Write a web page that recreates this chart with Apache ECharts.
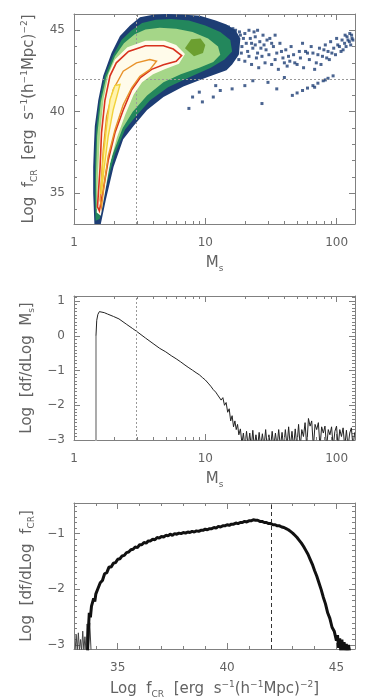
<!DOCTYPE html>
<html>
<head>
<meta charset="utf-8">
<script src="https://cdn.jsdelivr.net/npm/echarts@6/dist/echarts.min.js"></script>
<style>
  html, body { margin: 0; padding: 0; background: #fff; }
  #chart { width: 371px; height: 700px; }
</style>
</head>
<body>
<div id="chart"></div>
<script>
// ---------- panel 1: density of (Ms, log fCR), nested levels ----------
const navyLevel = [[1.43,33.1],[1.40,35.0],[1.40,36.6],[1.42,38.0],[1.44,39.1],[1.53,40.7],[1.67,42.2],[1.93,43.6],[2.24,44.65],[2.67,45.3],[3.18,45.8],[4.0,45.95],[5.1,46.0],[7.0,45.95],[9.1,45.9],[12,45.6],[14.5,45.35],[17,45.0],[18.5,44.5],[18,43.5],[16,42.9],[14.5,42.55],[10.2,42.1],[6.8,41.55],[4.8,40.9],[3.6,40.1],[2.83,39.1],[2.37,38.3],[2.0,36.6],[1.75,34.6],[1.6,33.1]];
const tealLevel = [[1.46,33.3],[1.44,35.0],[1.45,37.0],[1.48,39.0],[1.57,40.7],[1.72,42.2],[2.0,43.5],[2.3,44.4],[2.75,45.0],[3.3,45.45],[4.2,45.65],[5.5,45.7],[7.5,45.6],[10,45.3],[13,44.9],[15.5,44.4],[16,43.7],[14,43.2],[11,42.7],[7.5,42.1],[5.2,41.5],[3.8,40.7],[2.95,39.7],[2.45,38.9],[2.05,37.4],[1.74,35.3],[1.57,33.4]];
const lightLevel = [[1.48,34.0],[1.47,36.0],[1.5,38.5],[1.6,40.6],[1.76,42.1],[2.05,43.4],[2.4,44.2],[2.9,44.75],[3.5,45.05],[4.5,45.15],[6,45.1],[8,44.9],[10.5,44.5],[12.5,44.0],[13,43.5],[11.5,43.05],[9,42.7],[6.5,42.3],[4.8,41.8],[3.6,41.0],[2.8,40.0],[2.35,39.0],[1.95,37.3],[1.7,35.5],[1.55,34.0]];
const oliveLevel = [[7.0,43.9],[7.8,44.45],[9.2,44.5],[10.0,44.1],[9.6,43.6],[8.2,43.4]];
const creamLevel = [[1.49,33.8],[1.53,36.5],[1.58,38.7],[1.68,40.8],[1.83,42.3],[2.05,43.2],[2.55,43.95],[3.5,44.35],[4.9,44.35],[6.0,44.1],[7.0,43.55],[6.3,42.95],[4.9,42.6],[4.0,42.3],[3.3,41.8],[2.85,41.05],[2.45,39.8],[2.12,38.4],[1.88,36.8],[1.72,35.0],[1.6,33.6]];
const redContour = [[1.51,34.15],[1.58,36.6],[1.62,38.7],[1.72,40.7],[1.88,42.2],[2.1,43.0],[2.6,43.7],[3.5,44.05],[4.8,44.05],[5.7,43.85],[6.6,43.45],[6.0,43.1],[4.8,42.88],[3.9,42.6],[3.2,42.1],[2.75,41.35],[2.37,40.1],[2.05,38.7],[1.82,37.0],[1.67,35.2],[1.56,33.9]];
const orangeContour = [[1.58,34.57],[1.67,37.65],[1.77,39.71],[1.99,41.36],[2.37,42.49],[2.99,43.0],[3.78,43.2],[4.25,43.1],[3.78,42.58],[3.18,42.18],[2.75,41.46],[2.37,40.43],[2.05,38.88],[1.82,37.25],[1.69,35.4],[1.62,34.15]];
const yellowContour = [[1.60,34.98],[1.67,37.25],[1.77,39.09],[1.88,40.74],[2.05,41.6],[2.24,41.67],[2.17,41.25],[1.99,40.12],[1.82,38.47],[1.69,36.42],[1.62,34.98]];
const tailPoints = [
  [15,45.2],[16,44.9],[17,45.0],[18.5,44.7],[20,44.8],[22,44.5],[24,44.6],[26,44.3],[28,44.1],[15.5,44.2],[17.5,43.9],[19,44.0],[21,43.7],[23,43.9],[25,43.6],[27,43.4],[29,43.8],[16.5,43.5],[18,43.2],[20,43.1],[22.5,42.9],[25.5,42.7],[28.5,43.0],
  [14.8,44.8],[15.2,43.8],[16.2,45.1],[16.8,44.4],[17.2,43.6],[18.2,44.9],[18.8,43.6],[19.5,44.5],[20.5,44.2],[21.5,45.0],[21.5,43.4],[22.5,44.2],[23.5,44.9],[24.5,43.3],[24,44.1],[25,45.0],[26.5,43.9],[27.5,44.7],[29.5,44.4],[30.5,43.5],[32,44.2],[34,44.7],[34,43.2],[38,43.7],
  [31,44.5],[33,44.0],[35,43.6],[37,44.2],[39,43.3],[41,43.8],[44,43.1],[47,43.5],[50,42.9],[53,43.3],[56,42.7],[32,42.9],[36,42.6],[42,42.8],[58,43.7],
  [40,43.0],[43,43.4],[45,44.0],[48,43.0],[52,43.7],[55,44.2],[60,43.6],[64,44.0],[72,43.5],[80,43.8],[84,43.3],[92,43.6],[102,44.1],[108,43.7],[118,44.0],[122,44.4],[128,44.1],[131,44.5],[126,44.8],[116,44.7],
  [62,43.2],[66,43.6],[70,43.0],[74,43.9],[78,43.4],[82,44.1],[86,43.7],[90,44.3],[95,43.9],[100,44.5],[105,44.0],[110,44.4],[115,44.2],[120,44.6],[125,44.3],[130,44.7],[133,44.4],[112,43.8],[98,43.5],[88,43.2],[76,42.9],[68,42.6],
  [46,41.0],[50,41.15],[55,41.3],[60,41.45],[66,41.6],[72,41.75],[79,41.9],[86,42.05],[94,42.2],[68,41.5],[82,41.95],
  [7.5,40.2],[9.5,40.6],[11.5,40.9],[13,41.3],[16,41.4],[20,41.6],[23,41.9],[27,40.5],[30,41.8],[35,41.4],[40,42.1],[12,41.6],[9,41.2],[8,40.9]
];

// ---------- panel 2: log df/dlog Ms ----------
const msSpike = [[1.47,-3.3],[1.47,0.0]];
const msCurve = [[1.47,0.0],[1.49,0.45],[1.52,0.62],[1.56,0.70],[1.6,0.72],[1.7,0.67],[1.8,0.63],[2.0,0.56],[2.2,0.49],[2.5,0.34],[2.8,0.21],[3.0,0.13],[3.5,-0.06],[4,-0.22],[4.5,-0.36],[5,-0.46],[5.5,-0.57],[6,-0.66],[6.5,-0.75],[7,-0.84],[7.5,-0.92],[8,-0.99],[8.5,-1.06],[9,-1.12],[9.5,-1.2],[10,-1.27],[10.5,-1.36],[11,-1.45],[11.5,-1.55],
  [12,-1.62],[12.4,-1.7],[12.8,-1.66],[13.2,-1.85],[13.6,-1.78],[14.0,-2.0],[14.4,-1.92],[14.8,-2.2],[15.2,-2.1],[15.6,-2.45],[16.0,-2.3],[16.4,-2.62],[16.8,-2.45],[17.2,-2.7],[17.6,-2.55],[18.0,-2.85],[18.5,-2.68],[19.0,-3.1],[19.5,-2.8],
  [20.0,-3.2],[20.6,-2.75],[21.2,-3.2],[21.8,-2.8],[22.4,-3.2],[23.0,-2.72],[23.6,-3.2],[24.3,-2.85],[25.0,-3.2],[25.7,-2.78],[26.4,-3.2],[27.2,-2.82],[28.0,-3.2],[28.8,-2.7],[29.6,-3.2],[30.5,-2.85],[31.4,-3.2],[32.3,-2.75],[33.2,-3.2],[34.2,-2.8],[35.2,-3.2],[36.2,-2.7],[37.3,-3.2],[38.4,-2.78],[39.5,-3.2],[40.7,-2.7],[41.9,-3.2],[43.1,-2.62],[44.4,-3.2],[45.7,-2.75],[47.0,-3.2],[48.4,-2.68],[49.8,-3.2],
  [51.3,-2.55],[52.8,-3.2],[54.3,-2.7],[55.9,-2.9],[57.5,-2.5],[59.2,-3.2],[61.0,-2.38],[62.8,-2.6],[64.6,-2.45],[66.5,-3.2],[68.5,-2.55],[70.5,-2.7],[72.6,-2.5],[74.7,-3.2],[76.9,-2.62],[79.2,-2.8],[81.5,-2.6],[83.9,-3.2],[86.4,-2.7],[88.9,-2.85],[91.5,-2.62],[94.2,-3.2],[97.0,-2.75],[99.8,-2.6],[102.7,-3.2],[105.7,-2.7],[108.8,-2.9],[112.0,-2.65],[115.3,-3.2],[118.7,-2.72],[122.2,-3.2],[125.8,-2.8],[129.5,-2.65],[133.3,-3.2],[137.2,-2.78]];

// ---------- panel 3: log df/dlog fCR ----------
const fcrNoiseLeft = [[33.05,-3.1],[33.1,-2.82],[33.15,-3.1],[33.2,-2.78],[33.25,-3.1],[33.3,-2.9],[33.35,-3.1],[33.4,-2.75],[33.45,-3.1],[33.5,-2.85],[33.55,-3.1],[33.6,-2.62],[33.65,-3.1],[33.72,-2.6],[33.78,-3.1]];
const fcrCurve = [[33.62,-3.1],[33.66,-2.7],[33.7,-2.42],[33.75,-2.5],[33.8,-2.3],[33.85,-2.32],[33.9,-2.16],[33.95,-2.22],[34.0,-2.08],[34.05,-2.1],[34.1,-1.98],[34.15,-2.0],[34.2,-1.88],[34.3,-1.84],[34.4,-1.72],[34.5,-1.7],[34.6,-1.6],[34.7,-1.6],[34.8,-1.53],[34.9,-1.52],
  [35.0,-1.46],[35.1,-1.45],[35.2,-1.4],[35.3,-1.39],[35.4,-1.34],[35.5,-1.33],[35.6,-1.29],[35.7,-1.28],[35.8,-1.24],[35.9,-1.25],[36.0,-1.2],[36.1,-1.2],[36.2,-1.16],[36.3,-1.17],[36.4,-1.13],[36.5,-1.13],[36.6,-1.1],[36.7,-1.11],[36.8,-1.07],[36.9,-1.08],[37.0,-1.05],[37.1,-1.06],[37.2,-1.03],[37.3,-1.04],[37.4,-1.01],[37.5,-1.03],[37.6,-1.0],[37.7,-1.01],[37.8,-0.99],[37.9,-1.0],
  [38.0,-0.98],[38.1,-0.99],[38.2,-0.97],[38.3,-0.98],[38.4,-0.96],[38.5,-0.97],[38.6,-0.95],[38.7,-0.96],[38.8,-0.94],[38.9,-0.94],[39.0,-0.92],[39.1,-0.93],[39.2,-0.91],[39.3,-0.91],[39.4,-0.89],[39.5,-0.9],[39.6,-0.87],[39.7,-0.88],[39.8,-0.86],[39.9,-0.86],[40.0,-0.84],[40.1,-0.85],[40.2,-0.83],[40.3,-0.83],[40.4,-0.81],[40.5,-0.82],[40.6,-0.8],[40.7,-0.8],[40.8,-0.78],[40.9,-0.79],
  [41.0,-0.77],[41.1,-0.77],[41.2,-0.75],[41.3,-0.76],[41.4,-0.76],[41.5,-0.78],[41.6,-0.78],[41.7,-0.8],[41.8,-0.8],[41.9,-0.82],[42.0,-0.82],[42.1,-0.84],[42.2,-0.84],[42.3,-0.86],[42.4,-0.86],[42.5,-0.88],[42.6,-0.89],[42.7,-0.91],[42.8,-0.93],[42.9,-0.96],[43.0,-0.99],[43.1,-1.03],[43.2,-1.07],[43.3,-1.12],[43.4,-1.17],[43.5,-1.23],[43.6,-1.3],[43.7,-1.37],[43.8,-1.46],[43.9,-1.55],
  [44.0,-1.66],[44.1,-1.76],[44.2,-1.88],[44.3,-2.0],[44.4,-2.14],[44.5,-2.26],[44.6,-2.42],[44.7,-2.52],[44.8,-2.68],[44.9,-2.75],[45.0,-2.92],[45.05,-2.82],[45.1,-3.05],[45.15,-2.88],[45.2,-3.1],[45.25,-2.9],[45.3,-3.1],[45.35,-2.95],[45.4,-3.1],[45.45,-2.98],[45.5,-3.1],[45.55,-3.0],[45.6,-3.1]];

// axis ranges, ticks, reference lines
const msMin = 1, msMax = 138;
const msLabels = [1, 10, 100];
const msMinor = [2,3,4,5,6,7,8,9,20,30,40,50,60,70,80,90];
const fcrRange1 = [33.1, 46];       // panel 1 y
const fcrTicks1 = [35, 40, 45];
const fcrMinor1 = [34,36,37,38,39,41,42,43,44,46];
const dfRange2 = [-3, 1.15];
const dfTicks2 = [-3, -2, -1, 0, 1];
const fcrRange3 = [33, 45.85];      // panel 3 x
const fcrTicks3 = [35, 40, 45];
const fcrMinor3 = [33,34,36,37,38,39,41,42,43,44];
const dfRange3 = [-3.07, -0.45];
const dfTicks3 = [-3, -2, -1];
const refMs = 3, refFcr = 42;

function tenths(a, b) {
  const out = [];
  for (let i = Math.round(a * 10); i <= Math.round(b * 10); i++) out.push(i / 10);
  return out;
}

const font = 'DejaVu Sans';
const axisGrey = '#808080';
const textGrey = '#626262';
const rich = {
  t: { fontFamily: font, fontSize: 15, color: textGrey, lineHeight: 19 },
  sub: { fontFamily: font, fontSize: 9, color: textGrey, verticalAlign: 'bottom', lineHeight: 8 },
  sup: { fontFamily: font, fontSize: 9, color: textGrey, verticalAlign: 'top', lineHeight: 10 }
};
const fcrTitle = '{t|Log  f}{sub|CR}{t|  [erg  s}{sup|−1}{t|(h}{sup|−1}{t|Mpc)}{sup|−2}{t|]}';
const minus = v => String(v).replace('-', '−');

function logAxis(grid, pos, main) {
  return {
    type: 'log', logBase: 10, gridIndex: grid, position: pos, min: msMin, max: msMax,
    axisLine: { show: true, onZero: false, lineStyle: { color: axisGrey } },
    axisTick: { show: true, inside: true, length: 6, lineStyle: { color: axisGrey } },
    axisLabel: main ? { show: true, color: textGrey, fontFamily: font, fontSize: 12, margin: 13,
      formatter: v => msLabels.indexOf(v) >= 0 ? String(v) : '' } : { show: false },
    splitLine: { show: false },
    name: main ? '{t|M}{sub|s}' : '', nameLocation: 'middle', nameGap: 30,
    nameTextStyle: { rich }
  };
}

function valAxis(grid, pos, range, ticks, len, main, extra) {
  return Object.assign({
    type: 'value', gridIndex: grid, position: pos, min: range[0], max: range[1],
    axisLine: { show: len > 4, onZero: false, lineStyle: { color: axisGrey } },
    axisTick: { show: true, inside: true, length: len, customValues: ticks, lineStyle: { color: axisGrey } },
    axisLabel: main ? { show: true, customValues: ticks, color: textGrey, fontFamily: font, fontSize: 12, margin: 9, formatter: minus } : { show: false },
    splitLine: { show: false }
  }, extra || {});
}

function polygon(points, fill, stroke, width, z) {
  return {
    type: 'custom', xAxisIndex: 0, yAxisIndex: 0, z, silent: true, clip: true,
    data: [points[0]],
    renderItem: (params, api) => ({
      type: 'polygon',
      shape: { points: points.map(p => api.coord(p)) },
      style: { fill: fill || 'none', stroke: stroke || 'none', lineWidth: width || 0 }
    })
  };
}

function logMinorTicks(xi, yi, yVal) {
  return {
    type: 'custom', xAxisIndex: xi, yAxisIndex: yi, z: 10, silent: true,
    data: msMinor.map(v => [v, yVal]),
    renderItem: (params, api) => {
      const cs = params.coordSys;
      const x = Math.round(api.coord([api.value(0), yVal])[0]) + 0.5;
      const st = { stroke: axisGrey, lineWidth: 1 };
      return { type: 'group', children: [
        { type: 'line', shape: { x1: x, y1: cs.y + cs.height, x2: x, y2: cs.y + cs.height - 3 }, style: st },
        { type: 'line', shape: { x1: x, y1: cs.y, x2: x, y2: cs.y + 3 }, style: st }
      ] };
    }
  };
}

const chart = echarts.init(document.getElementById('chart'), null, { renderer: 'canvas' });
chart.setOption({
  animation: false,
  backgroundColor: '#fff',
  grid: [
    { left: 74, top: 14, width: 281, height: 210 },
    { left: 74, top: 296, width: 281, height: 144 },
    { left: 74, top: 503, width: 281, height: 149 }
  ],
  xAxis: [
    logAxis(0, 'bottom', true),
    logAxis(0, 'top', false),
    logAxis(1, 'bottom', true),
    logAxis(1, 'top', false),
    valAxis(2, 'bottom', fcrRange3, fcrTicks3, 6, true, {
      name: fcrTitle, nameLocation: 'middle', nameGap: 31, nameTextStyle: { rich },
      axisLabel: { show: true, customValues: fcrTicks3, color: textGrey, fontFamily: font, fontSize: 12, margin: 13 }
    }),
    valAxis(2, 'top', fcrRange3, fcrTicks3, 6, false),
    valAxis(2, 'bottom', fcrRange3, fcrMinor3, 3, false),
    valAxis(2, 'top', fcrRange3, fcrMinor3, 3, false)
  ],
  yAxis: [
    valAxis(0, 'left', fcrRange1, fcrTicks1, 6, true, {
      name: fcrTitle, nameLocation: 'middle', nameRotate: 90, nameGap: 35, nameTextStyle: { rich }
    }),
    valAxis(0, 'right', fcrRange1, fcrTicks1, 6, false),
    valAxis(0, 'left', fcrRange1, fcrMinor1, 3, false),
    valAxis(0, 'right', fcrRange1, fcrMinor1, 3, false),
    valAxis(1, 'left', dfRange2, dfTicks2, 6, true, {
      name: '{t|Log  [df/dLog  M}{sub|s}{t|]}', nameLocation: 'middle', nameRotate: 90, nameGap: 35, nameTextStyle: { rich }
    }),
    valAxis(1, 'right', dfRange2, dfTicks2, 6, false),
    valAxis(1, 'left', dfRange2, tenths(-3, 1.1), 3, false),
    valAxis(1, 'right', dfRange2, tenths(-3, 1.1), 3, false),
    valAxis(2, 'left', dfRange3, dfTicks3, 6, true, {
      name: '{t|Log  [df/dLog  f}{sub|CR}{t|]}', nameLocation: 'middle', nameRotate: 90, nameGap: 35, nameTextStyle: { rich }
    }),
    valAxis(2, 'right', dfRange3, dfTicks3, 6, false),
    valAxis(2, 'left', dfRange3, tenths(-3, -0.5), 3, false),
    valAxis(2, 'right', dfRange3, tenths(-3, -0.5), 3, false)
  ],
  series: [
    // panel 1
    { type: 'line', xAxisIndex: 0, yAxisIndex: 0, data: [], z: 1, silent: true,
      markLine: { silent: true, symbol: 'none', label: { show: false },
        lineStyle: { color: '#999', type: [2, 2], width: 1 },
        data: [{ yAxis: refFcr }, { xAxis: refMs }] } },
    polygon(navyLevel, '#1d3d74', null, 0, 2),
    { type: 'scatter', xAxisIndex: 0, yAxisIndex: 0, z: 2, silent: true, symbol: 'rect', symbolSize: [3, 3],
      itemStyle: { color: '#1d3d74' }, data: tailPoints },
    polygon(tealLevel, '#23875c', null, 0, 3),
    polygon(lightLevel, '#a5d688', null, 0, 4),
    polygon(oliveLevel, '#6c9f30', null, 0, 5),
    polygon(creamLevel, '#fffbea', null, 0, 6),
    polygon(redContour, null, '#d8321e', 1.6, 7),
    polygon(orangeContour, null, '#e8922a', 1.4, 7),
    polygon(yellowContour, '#fff3b0', '#f2d23a', 1.4, 7),
    logMinorTicks(0, 0, fcrRange1[0]),
    // panel 2
    { type: 'line', xAxisIndex: 2, yAxisIndex: 4, data: [], z: 1, silent: true,
      markLine: { silent: true, symbol: 'none', label: { show: false },
        lineStyle: { color: '#999', type: [2, 2], width: 1 }, data: [{ xAxis: refMs }] } },
    { type: 'line', xAxisIndex: 2, yAxisIndex: 4, data: msSpike, showSymbol: false, silent: true,
      lineStyle: { color: '#aaa', width: 2 } },
    { type: 'line', xAxisIndex: 2, yAxisIndex: 4, data: msCurve, showSymbol: false, silent: true,
      lineStyle: { color: '#222', width: 1 } },
    logMinorTicks(2, 4, dfRange2[0]),
    // panel 3
    { type: 'line', xAxisIndex: 4, yAxisIndex: 8, data: [], z: 1, silent: true,
      markLine: { silent: true, symbol: 'none', label: { show: false },
        lineStyle: { color: '#333', type: [4, 3], width: 1 }, data: [{ xAxis: refFcr }] } },
    { type: 'line', xAxisIndex: 4, yAxisIndex: 8, data: fcrNoiseLeft, showSymbol: false, silent: true,
      lineStyle: { color: '#444', width: 1 } },
    { type: 'line', xAxisIndex: 4, yAxisIndex: 8, data: fcrCurve, showSymbol: false, silent: true,
      lineStyle: { color: '#111', width: 3 } }
  ]
});
</script>
</body>
</html>
